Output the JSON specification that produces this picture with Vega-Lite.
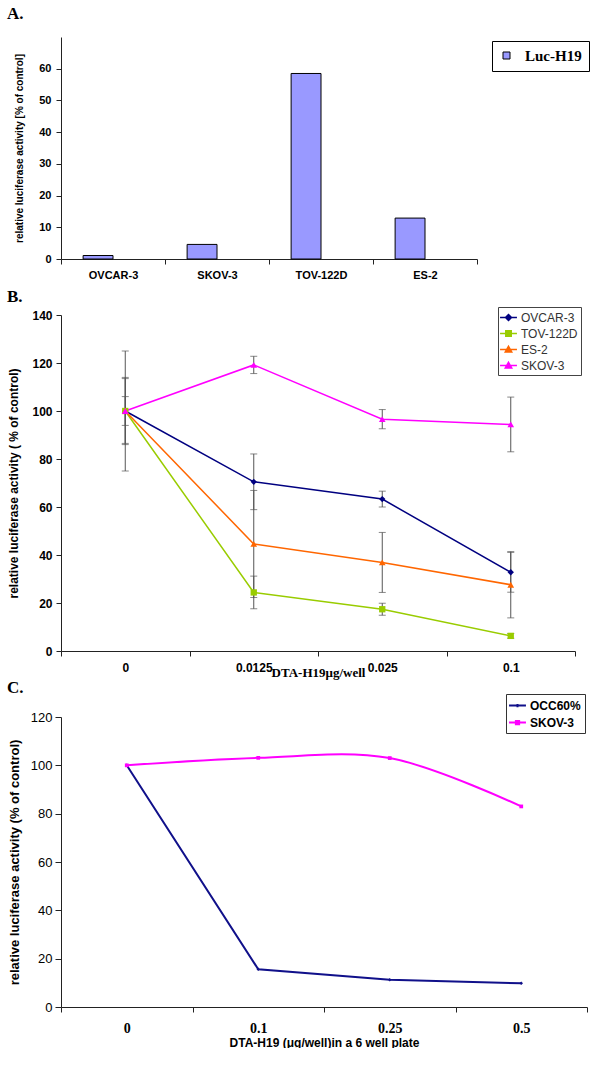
{
  "$schema": "https://vega.github.io/schema/vega-lite/v6.json",
  "padding": {"left": 7, "top": 5, "right": 0, "bottom": 0},
  "background": "white",
  "spacing": -1,
  "config": {
    "view": {"stroke": null},
    "axis": {"grid": false, "domainColor": "#222", "tickColor": "#222", "labelColor": "#000", "titleColor": "#000", "domainWidth": 1, "tickWidth": 1}
  },
  "resolve": {"scale": {"color": "independent", "shape": "independent", "fill": "independent"}, "legend": {"color": "independent", "shape": "independent", "fill": "independent"}},
  "vconcat": [
    {
      "spacing": 7,
      "resolve": {"scale": {"color": "independent", "shape": "independent", "fill": "independent"}, "legend": {"color": "independent", "shape": "independent", "fill": "independent"}},
      "vconcat": [
        {
          "width": 416,
          "height": 222,
          "title": {"text": "A.", "anchor": "start", "frame": "group", "dx": -54, "font": "Liberation Serif", "fontSize": 17, "fontWeight": "bold", "offset": 14},
          "data": {"values": [
            {"cell": "OVCAR-3", "series": "Luc-H19", "value": 1.1},
            {"cell": "SKOV-3", "series": "Luc-H19", "value": 4.6},
            {"cell": "TOV-122D", "series": "Luc-H19", "value": 58.5},
            {"cell": "ES-2", "series": "Luc-H19", "value": 12.9}
          ]},
          "mark": {"type": "bar", "stroke": "#000", "strokeWidth": 1},
          "encoding": {
            "x": {"field": "cell", "type": "nominal", "sort": null,
              "scale": {"paddingInner": 0, "paddingOuter": 0},
              "axis": {"title": null, "labelAngle": 0, "tickBand": "extent", "labelFont": "Liberation Sans", "labelFontWeight": "bold", "labelFontSize": 11, "labelPadding": 5, "tickSize": 5}},
            "xOffset": {"field": "series", "scale": {"domain": ["Luc-H19", "blank"], "paddingInner": 0, "paddingOuter": 0.74}},
            "y": {"field": "value", "type": "quantitative", "scale": {"domain": [0, 70]},
              "axis": {"values": [0, 10, 20, 30, 40, 50, 60], "title": "relative luciferase activity [% of control]", "titleFont": "Liberation Sans", "titleFontWeight": "bold", "titleFontSize": 10, "titlePadding": 14, "labelFont": "Liberation Sans", "labelFontWeight": "bold", "labelFontSize": 11, "labelPadding": 5, "tickSize": 5}},
            "fill": {"field": "series", "type": "nominal", "scale": {"domain": ["Luc-H19"], "range": ["#9999FF"]},
              "legend": {"orient": "none", "legendX": 431, "legendY": 4, "title": null, "strokeColor": "#000", "fillColor": "white", "padding": 7, "symbolType": "square", "symbolSize": 49, "symbolStrokeColor": "#000", "symbolStrokeWidth": 1, "labelFont": "Liberation Serif", "labelFontSize": 15, "labelFontWeight": "bold", "labelOffset": 11}}
          }
        },
        {
          "width": 514,
          "height": 336,
          "title": {"text": "B.", "anchor": "start", "frame": "group", "dx": -54, "font": "Liberation Serif", "fontSize": 17, "fontWeight": "bold", "offset": 1},
          "data": {"values": [
            {"dose": "0", "series": "OVCAR-3", "value": 100, "err": 13.5},
            {"dose": "0.0125", "series": "OVCAR-3", "value": 70.5, "err": 11.6},
            {"dose": "0.025", "series": "OVCAR-3", "value": 63.3, "err": 3.3},
            {"dose": "0.1", "series": "OVCAR-3", "value": 32.8, "err": 8.3},
            {"dose": "0", "series": "TOV-122D", "value": 100, "err": 6},
            {"dose": "0.0125", "series": "TOV-122D", "value": 24.4, "err": 6.8},
            {"dose": "0.025", "series": "TOV-122D", "value": 17.4, "err": 2.5},
            {"dose": "0.1", "series": "TOV-122D", "value": 6.3, "err": 1},
            {"dose": "0", "series": "ES-2", "value": 100, "err": 14},
            {"dose": "0.0125", "series": "ES-2", "value": 44.6, "err": 22.3},
            {"dose": "0.025", "series": "ES-2", "value": 36.9, "err": 12.5},
            {"dose": "0.1", "series": "ES-2", "value": 27.6, "err": 13.8},
            {"dose": "0", "series": "SKOV-3", "value": 100, "err": 25},
            {"dose": "0.0125", "series": "SKOV-3", "value": 119.2, "err": 3.6},
            {"dose": "0.025", "series": "SKOV-3", "value": 96.6, "err": 4},
            {"dose": "0.1", "series": "SKOV-3", "value": 94.4, "err": 11.4}
          ]},
          "encoding": {
            "x": {"field": "dose", "type": "ordinal", "sort": ["0", "0.0125", "0.025", "0.1"],
              "scale": {"type": "band", "paddingInner": 0, "paddingOuter": 0},
              "axis": {"title": "DTA-H19μg/well", "titleFont": "Liberation Serif", "titleFontWeight": "bold", "titleFontSize": 13, "titleY": 21, "titleBaseline": "middle", "labelAngle": 0, "tickBand": "extent", "labelFont": "Liberation Sans", "labelFontWeight": "bold", "labelFontSize": 12, "labelPadding": 6, "tickSize": 5}},
            "y": {"field": "value", "type": "quantitative", "scale": {"domain": [0, 140]},
              "axis": {"values": [0, 20, 40, 60, 80, 100, 120, 140], "title": "relative luciferase activity ( % of control)", "titleFont": "Liberation Sans", "titleFontWeight": "bold", "titleFontSize": 12, "titlePadding": 11, "labelFont": "Liberation Sans", "labelFontWeight": "bold", "labelFontSize": 12, "labelPadding": 4, "tickSize": 5}},
            "color": {"field": "series", "type": "nominal",
              "scale": {"domain": ["OVCAR-3", "TOV-122D", "ES-2", "SKOV-3"], "range": ["#000080", "#99CC00", "#FF6600", "#FF00FF"]},
              "legend": {"orient": "none", "legendX": 437, "legendY": -8, "title": null, "strokeColor": "#444", "fillColor": "white", "padding": 3, "rowPadding": 2, "symbolSize": 169, "labelFont": "Liberation Sans", "labelFontSize": 12, "labelColor": "#333", "labelOffset": 5,
                "encode": {"symbols": {"update": {
                  "shape": {"signal": "datum.value === 'OVCAR-3' ? 'M-1.3,0H1.3M0,-0.46L0.46,0L0,0.46L-0.46,0Z' : datum.value === 'TOV-122D' ? 'M-1.3,0H1.3M-0.42,-0.42H0.42V0.42H-0.42Z' : 'M-1.3,0H1.3M0,-0.5L0.5,0.4H-0.5Z'"},
                  "fill": {"signal": "datum.value === 'OVCAR-3' ? '#000080' : datum.value === 'TOV-122D' ? '#99CC00' : datum.value === 'ES-2' ? '#FF6600' : '#FF00FF'"},
                  "stroke": {"signal": "datum.value === 'OVCAR-3' ? '#000080' : datum.value === 'TOV-122D' ? '#99CC00' : datum.value === 'ES-2' ? '#FF6600' : '#FF00FF'"},
                  "strokeWidth": {"value": 1.5},
                  "opacity": {"value": 1}
                }}}}
            }
          },
          "layer": [
            {
              "mark": {"type": "line", "strokeWidth": 1.5},
              "encoding": {"detail": {"field": "series"}}
            },
            {
              "mark": {"type": "errorbar", "ticks": true, "size": 7, "thickness": 1, "color": "#555"},
              "encoding": {
                "y": {"field": "value", "type": "quantitative"},
                "yError": {"field": "err"},
                "detail": {"field": "series"},
                "color": {"value": "#555"}
              }
            },
            {
              "transform": [{"filter": "datum.series === 'OVCAR-3'"}],
              "mark": {"type": "point", "filled": true, "opacity": 1, "size": 40, "shape": "diamond"}
            },
            {
              "transform": [{"filter": "datum.series === 'TOV-122D'"}],
              "mark": {"type": "point", "filled": true, "opacity": 1, "size": 40, "shape": "square"}
            },
            {
              "transform": [{"filter": "datum.series === 'ES-2' || datum.series === 'SKOV-3'"}],
              "mark": {"type": "point", "filled": true, "opacity": 1, "size": 45, "shape": "triangle-up"}
            }
          ]
        }
      ]
    },
    {
      "width": 526,
      "height": 290,
      "title": {"text": "C.", "anchor": "start", "frame": "group", "dx": -54, "font": "Liberation Serif", "fontSize": 17, "fontWeight": "bold", "offset": -3},
      "data": {"values": [
        {"dose": "0", "series": "OCC60%", "value": 100},
        {"dose": "0.1", "series": "OCC60%", "value": 15.6},
        {"dose": "0.25", "series": "OCC60%", "value": 11.3},
        {"dose": "0.5", "series": "OCC60%", "value": 9.8},
        {"dose": "0", "series": "SKOV-3", "value": 100},
        {"dose": "0.1", "series": "SKOV-3", "value": 103.1},
        {"dose": "0.25", "series": "SKOV-3", "value": 103},
        {"dose": "0.5", "series": "SKOV-3", "value": 83}
      ]},
      "encoding": {
        "x": {"field": "dose", "type": "ordinal", "sort": ["0", "0.1", "0.25", "0.5"],
          "scale": {"type": "band", "paddingInner": 0, "paddingOuter": 0},
          "axis": {"title": "DTA-H19 (μg/well)in a 6 well plate", "titleFont": "Liberation Sans", "titleFontWeight": "bold", "titleFontSize": 12, "titleY": 35, "titleBaseline": "middle", "labelAngle": 0, "tickBand": "extent", "labelFont": "Liberation Serif", "labelFontWeight": "bold", "labelFontSize": 14, "labelPadding": 9, "tickSize": 5}},
        "y": {"field": "value", "type": "quantitative", "scale": {"domain": [0, 120]},
          "axis": {"values": [0, 20, 40, 60, 80, 100, 120], "title": "relative luciferase activity (% of control)", "titleFont": "Liberation Sans", "titleFontWeight": "bold", "titleFontSize": 13, "titlePadding": 9, "labelFont": "Liberation Sans", "labelFontSize": 13, "labelPadding": 3, "tickSize": 6}},
        "color": {"field": "series", "type": "nominal",
          "scale": {"domain": ["OCC60%", "SKOV-3"], "range": ["#10108A", "#FF00FF"]},
          "legend": {"orient": "none", "legendX": 445, "legendY": -23, "title": null, "strokeColor": "#333", "fillColor": "white", "padding": 4, "rowPadding": 3, "symbolSize": 169, "labelFont": "Liberation Sans", "labelFontSize": 12, "labelFontWeight": "bold", "labelColor": "#000", "labelOffset": 5,
            "encode": {"symbols": {"update": {
              "shape": {"signal": "datum.value === 'OCC60%' ? 'M-1.3,0H1.3M0,-0.25V0.25' : 'M-1.3,0H1.3M-0.25,-0.25H0.25V0.25H-0.25Z'"},
              "fill": {"signal": "datum.value === 'OCC60%' ? '#10108A' : '#FF00FF'"},
              "stroke": {"signal": "datum.value === 'OCC60%' ? '#10108A' : '#FF00FF'"},
              "strokeWidth": {"value": 2},
              "opacity": {"value": 1}
            }}}}
        }
      },
      "layer": [
        {
          "transform": [{"filter": "datum.series === 'OCC60%'"}],
          "mark": {"type": "line", "strokeWidth": 2, "interpolate": "linear", "point": {"filled": true, "size": 12, "shape": "diamond"}}
        },
        {
          "transform": [{"filter": "datum.series === 'SKOV-3'"}],
          "mark": {"type": "line", "strokeWidth": 2, "interpolate": "catmull-rom", "point": {"filled": true, "size": 14, "shape": "square"}}
        }
      ]
    }
  ]
}
